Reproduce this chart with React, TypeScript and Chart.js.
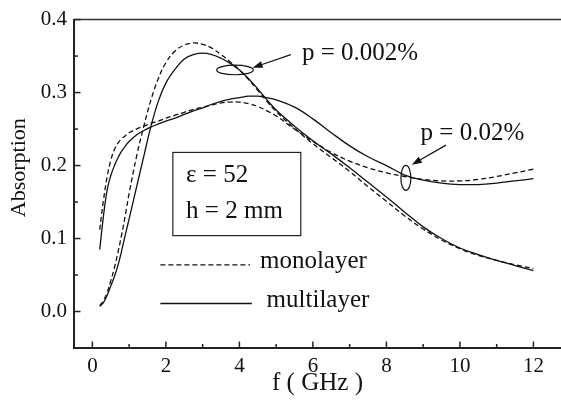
import React, { useEffect, useRef } from "react";
import { Chart, registerables } from "chart.js";

Chart.register(...registerables);

// ---- data (frequency in GHz, absorption) ----
const freq = [0.2, 0.3, 0.4, 0.5, 0.6, 0.7, 0.8, 0.9, 1.0, 1.2, 1.4, 1.6, 1.8, 2.0, 2.25, 2.5, 2.75, 3.0, 3.25, 3.5, 3.75, 4.0, 4.25, 4.5, 4.75, 5.0, 5.5, 6.0, 6.5, 7.0, 7.5, 8.0, 8.5, 9.0, 9.5, 10.0, 10.5, 11.0, 11.5, 12.0];

// p = 0.002 %
const mono002 = [0.008, 0.015, 0.026, 0.042, 0.060, 0.082, 0.106, 0.133, 0.162, 0.212, 0.254, 0.291, 0.320, 0.341, 0.357, 0.365, 0.368, 0.366, 0.361, 0.352, 0.342, 0.331, 0.318, 0.303, 0.288, 0.274, 0.251, 0.230, 0.211, 0.192, 0.171, 0.151, 0.131, 0.113, 0.098, 0.086, 0.077, 0.070, 0.064, 0.059];
const multi002 = [0.007, 0.012, 0.022, 0.035, 0.048, 0.064, 0.084, 0.106, 0.127, 0.170, 0.213, 0.255, 0.289, 0.313, 0.332, 0.346, 0.352, 0.354, 0.352, 0.347, 0.340, 0.331, 0.319, 0.305, 0.290, 0.276, 0.254, 0.234, 0.216, 0.197, 0.177, 0.157, 0.136, 0.116, 0.100, 0.087, 0.078, 0.070, 0.063, 0.056];

// p = 0.02 %
const mono02 = [0.112, 0.152, 0.184, 0.207, 0.222, 0.231, 0.237, 0.241, 0.245, 0.250, 0.254, 0.258, 0.261, 0.265, 0.269, 0.273, 0.277, 0.280, 0.283, 0.286, 0.287, 0.287, 0.285, 0.281, 0.275, 0.268, 0.250, 0.233, 0.218, 0.206, 0.197, 0.190, 0.185, 0.181, 0.179, 0.179, 0.181, 0.185, 0.190, 0.195];
const multi02 = [0.085, 0.130, 0.166, 0.186, 0.200, 0.211, 0.220, 0.227, 0.233, 0.242, 0.248, 0.253, 0.257, 0.261, 0.265, 0.270, 0.275, 0.279, 0.284, 0.288, 0.291, 0.293, 0.295, 0.295, 0.293, 0.290, 0.280, 0.264, 0.245, 0.227, 0.212, 0.200, 0.187, 0.180, 0.176, 0.174, 0.174, 0.176, 0.179, 0.182];

const xMajor = [0, 2, 4, 6, 8, 10, 12];
const xMinor = [1, 3, 5, 7, 9, 11];
const yMajor = [0, 0.1, 0.2, 0.3, 0.4];
const yMinor = [0.05, 0.15, 0.25, 0.35];

const legendLabels = ["monolayer", "multilayer"];
const boxLines = ["\u03B5 = 52", "h = 2 mm"];
const pLabels = ["p = 0.002%", "p = 0.02%"];

const FONT = '"Liberation Serif", "Times New Roman", Times, serif';
const INK = "#111";

const toPts = (ys: number[]) => freq.map((f, i) => ({ x: f, y: ys[i] }));

const decor = {
  id: "decor",
  afterDraw(chart: any) {
    const { ctx, chartArea: a } = chart;
    const xs = chart.scales.x;
    const ys = chart.scales.y;
    const px = (v: number) => xs.getPixelForValue(v);
    const py = (v: number) => ys.getPixelForValue(v);
    const seg = (x1: number, y1: number, x2: number, y2: number) => {
      ctx.beginPath();
      ctx.moveTo(x1, y1);
      ctx.lineTo(x2, y2);
      ctx.stroke();
    };
    ctx.save();
    // top frame line
    ctx.strokeStyle = "#333";
    ctx.lineWidth = 1.5;
    seg(a.left, a.top, a.right, a.top);

    // inward ticks
    ctx.strokeStyle = "#222";
    ctx.lineWidth = 1.5;
    xMajor.forEach((v) => seg(px(v), a.bottom, px(v), a.bottom - 6.5));
    xMinor.forEach((v) => seg(px(v), a.bottom, px(v), a.bottom - 4));
    yMajor.forEach((v) => seg(a.left, py(v), a.left + 6.5, py(v)));
    yMinor.forEach((v) => seg(a.left, py(v), a.left + 4, py(v)));

    // y axis title
    ctx.fillStyle = INK;
    ctx.font = `22px ${FONT}`;
    ctx.textAlign = "center";
    ctx.textBaseline = "middle";
    ctx.save();
    ctx.translate(19.5, py(0.197));
    ctx.rotate(-Math.PI / 2);
    ctx.fillText("Absorption", 0, 0);
    ctx.restore();

    // parameter box
    ctx.strokeStyle = "#222";
    ctx.lineWidth = 1.2;
    const bx1 = px(2.19), by1 = py(0.218), bx2 = px(5.67), by2 = py(0.104);
    ctx.strokeRect(bx1, by1, bx2 - bx1, by2 - by1);
    ctx.font = `25px ${FONT}`;
    ctx.textAlign = "left";
    ctx.fillText(boxLines[0], px(2.55), py(0.186));
    ctx.fillText(boxLines[1], px(2.55), py(0.137));

    // legend
    ctx.lineWidth = 1.3;
    ctx.strokeStyle = "#111";
    ctx.setLineDash([5, 3]);
    seg(px(1.85), py(0.064), px(4.29), py(0.064));
    ctx.setLineDash([]);
    seg(px(1.85), py(0.011), px(4.34), py(0.011));
    ctx.fillText(legendLabels[0], px(4.56), py(0.068));
    ctx.fillText(legendLabels[1], px(4.74), py(0.0155));

    // ellipses
    ctx.lineWidth = 1.2;
    ctx.beginPath();
    ctx.ellipse(px(3.88), py(0.331), 18.3, 4.8, 0, 0, Math.PI * 2);
    ctx.stroke();
    ctx.beginPath();
    ctx.ellipse(px(8.53), py(0.183), 5, 12.5, 0, 0, Math.PI * 2);
    ctx.stroke();

    // arrows
    const arrow = (x1: number, y1: number, x2: number, y2: number) => {
      const X1 = px(x1), Y1 = py(y1), X2 = px(x2), Y2 = py(y2);
      const ang = Math.atan2(Y2 - Y1, X2 - X1);
      const L = 10, W = 3.5;
      const bxp = X2 - L * Math.cos(ang), byp = Y2 - L * Math.sin(ang);
      seg(X1, Y1, bxp, byp);
      ctx.beginPath();
      ctx.moveTo(X2, Y2);
      ctx.lineTo(bxp + W * Math.sin(ang), byp - W * Math.cos(ang));
      ctx.lineTo(bxp - W * Math.sin(ang), byp + W * Math.cos(ang));
      ctx.closePath();
      ctx.fillStyle = "#111";
      ctx.fill();
    };
    ctx.lineWidth = 1.2;
    arrow(5.40, 0.352, 4.36, 0.334);
    arrow(9.62, 0.228, 8.69, 0.201);

    // p labels
    ctx.fillStyle = INK;
    ctx.fillText(pLabels[0], px(5.70), py(0.353));
    ctx.fillText(pLabels[1], px(8.93), py(0.244));
    ctx.restore();
  },
};

export default function App() {
  const ref = useRef<HTMLCanvasElement>(null);
  useEffect(() => {
    if (!ref.current) return;
    const common = { borderColor: "#111", borderWidth: 1.3, pointRadius: 0, fill: false, tension: 0.4 };
    const chart = new Chart(ref.current, {
      type: "line",
      data: {
        datasets: [
          { label: "monolayer p=0.002%", data: toPts(mono002), borderDash: [5, 3], ...common },
          { label: "multilayer p=0.002%", data: toPts(multi002), ...common },
          { label: "monolayer p=0.02%", data: toPts(mono02), borderDash: [5, 3], ...common },
          { label: "multilayer p=0.02%", data: toPts(multi02), ...common },
        ],
      },
      options: {
        responsive: false,
        animation: false,
        layout: { padding: { top: 19, right: 0, left: 0, bottom: 0 } },
        plugins: { legend: { display: false }, tooltip: { enabled: false } },
        scales: {
          x: {
            type: "linear",
            min: -0.5,
            max: 12.75,
            afterBuildTicks: (s: any) => { s.ticks = xMajor.map((v) => ({ value: v })); },
            afterFit: (s: any) => { s.height = 59; },
            grid: { display: false, drawTicks: false },
            border: { display: true, color: "#222", width: 2 },
            ticks: { color: INK, font: { family: FONT, size: 21 }, padding: 6, maxRotation: 0, autoSkip: false, callback: (v: any) => String(v) },
            title: { display: true, text: "f ( GHz )", color: INK, font: { family: FONT, size: 25 }, padding: { top: 0, bottom: 9 } },
          },
          y: {
            type: "linear",
            min: -0.05,
            max: 0.4,
            afterBuildTicks: (s: any) => { s.ticks = yMajor.map((v) => ({ value: v })); },
            afterFit: (s: any) => { s.width = 74; },
            grid: { display: false, drawTicks: false },
            border: { display: true, color: "#222", width: 2 },
            ticks: { color: INK, font: { family: FONT, size: 21 }, padding: 7, callback: (v: any) => Number(v).toFixed(1) },
          },
        },
      },
      plugins: [decor],
    });
    return () => chart.destroy();
  }, []);
  return (
    <div style={{ position: "absolute", left: 0, top: 0, width: 561, height: 407, background: "#fff" }}>
      <canvas ref={ref} width={561} height={407} />
    </div>
  );
}
